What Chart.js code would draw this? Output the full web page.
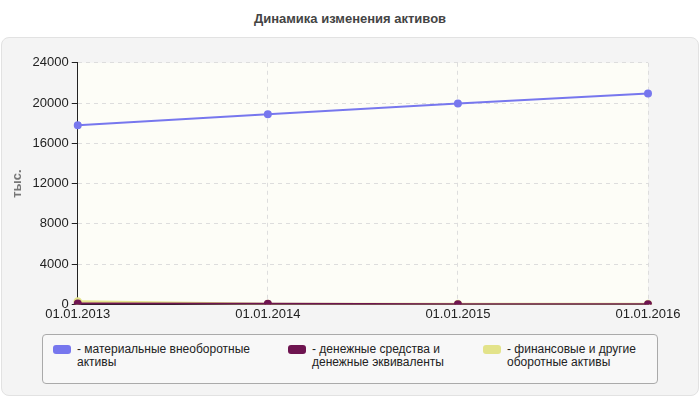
<!DOCTYPE html>
<html><head><meta charset="utf-8">
<script src="https://cdn.jsdelivr.net/npm/chart.js@4"></script>
<style>
body{margin:0;width:700px;height:400px;background:#fff;font-family:"Liberation Sans",Arial,sans-serif;position:relative;overflow:hidden}
#title{position:absolute;top:11px;left:0;width:700px;text-align:center;font-size:13px;font-weight:bold;color:#444}
#panel{position:absolute;left:1px;top:37px;width:696px;height:357px;background:#f4f4f4;border:1px solid #e2e2e2;border-radius:8px}
#wrap{position:absolute;left:0;top:52px;width:700px;height:272px}
#legend{position:absolute;left:42px;top:334px;width:614px;height:48px;border:1px solid #aaa;border-radius:4px;background:#f8f8f8;font-size:12px;color:#222}
.item{position:absolute;top:8px;display:flex;line-height:13px}
.sw{width:18px;height:9px;border-radius:3px;margin-right:6px;margin-top:2px}
</style></head><body>
<div id="title">Динамика изменения активов</div>
<div id="panel"></div>
<div id="wrap"><canvas id="c"></canvas></div>
<div id="legend"></div>
<script>
var labels = ['01.01.2013','01.01.2014','01.01.2015','01.01.2016'];
var tangible = [17800, 18900, 19950, 20950];
var cash = [80, 60, 20, 20];
var financial = [280, 40, 30, 30];
var names = ['- материальные внеоборотные<br>активы','- денежные средства и<br>денежные эквиваленты','- финансовые и другие<br>оборотные активы'];
var colors = ['#7777ee','#6e1450','#e3e38a'];
var legendX = [10, 245, 440];

var html = '';
for (var i = 0; i < names.length; i++) {
    html += '<div class="item" style="left:'+legendX[i]+'px"><div class="sw" style="background:'+colors[i]+'"></div><div>'+names[i]+'</div></div>';
}
document.getElementById('legend').innerHTML = html;

var plotBg = {
    id: 'plotBg',
    beforeDraw: function(chart) {
        var a = chart.chartArea, ctx = chart.ctx;
        ctx.save();
        ctx.fillStyle = '#fdfdf7';
        ctx.fillRect(a.left, a.top, a.right - a.left, a.bottom - a.top);
        ctx.restore();
    }
};

var ctx = document.getElementById('c');
var myChart = new Chart(ctx, {
    type: 'line',
    data: {
        labels: labels,
        datasets: [
            {data: tangible, borderColor: colors[0], backgroundColor: colors[0], borderWidth: 2, pointRadius: 3},
            {data: cash, borderColor: colors[1], backgroundColor: colors[1], borderWidth: 2, pointRadius: 3},
            {data: financial, borderColor: colors[2], backgroundColor: colors[2], borderWidth: 2.5, pointRadius: 3}
        ]
    },
    options: {
        responsive: true,
        maintainAspectRatio: false,
        animation: false,
        layout: {padding: {left: 6, right: 52, top: 4, bottom: 0}},
        plugins: {legend: {display: false}, tooltip: {enabled: false}},
        scales: {
            x: {
                grid: {color: '#dddddd', drawTicks: false},
                border: {color: '#222', dash: [4,4]},
                ticks: {color: '#222', font: {size: 13, family: 'Liberation Sans'}, padding: 2, maxRotation: 0, autoSkip: false}
            },
            y: {
                min: 0, max: 24000,
                grid: {color: '#dddddd', tickLength: 6, tickColor: '#222'},
                border: {color: '#222', dash: [4,4]},
                ticks: {stepSize: 4000, color: '#222', font: {size: 13, family: 'Liberation Sans'},
                    callback: function(v) { return String(v); }},
                title: {display: true, text: 'тыс.', color: '#777', font: {size: 13, weight: 'bold'}}
            }
        }
    },
    plugins: [plotBg]
});
</script>
</body></html>
